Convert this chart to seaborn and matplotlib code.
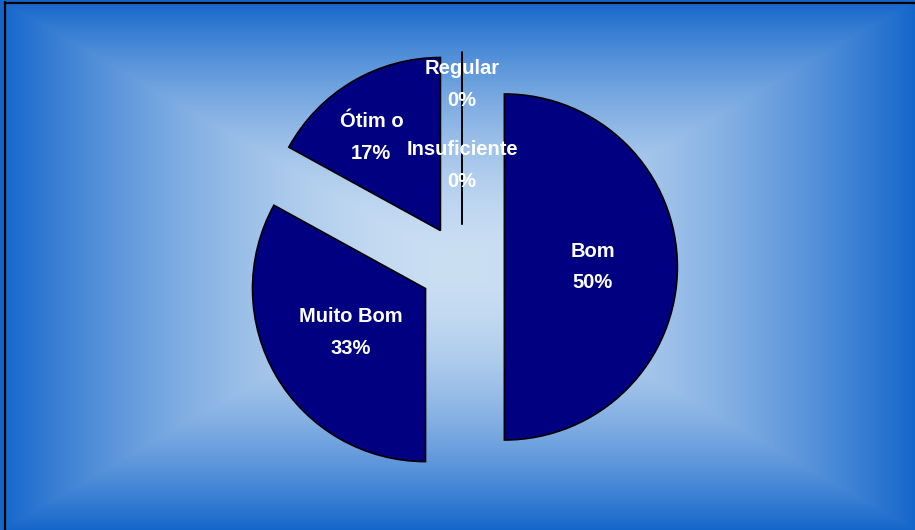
import numpy as np
import matplotlib
matplotlib.use("Agg")
import matplotlib.pyplot as plt
import seaborn as sns

# dados do gráfico
categorias = ["Bom", "Muito Bom", "Ótimo", "Regular", "Insuficiente"]
percentuais = [50, 33, 17, 0, 0]
rotulos = ["Bom\n50%", "Muito Bom\n33%", "Ótim o\n17%", "Regular\n0%", "Insuficiente\n0%"]

sns.set_theme(style="white")
plt.rcParams["font.family"] = ["Liberation Sans", "DejaVu Sans"]

W, H = 915, 530
fig = plt.figure(figsize=(W / 100, H / 100), dpi=100)
ax = fig.add_axes([0, 0, 1, 1])

# fundo em degradê retangular (claro no centro, azul nas bordas)
yy, xx = np.mgrid[0:H, 0:W]
t = np.maximum(np.abs(xx - W / 2) / (W / 2), np.abs(yy - H / 2) / (H / 2))
t = t ** 1.75
c0 = np.array([203, 223, 243]) / 255
c1 = np.array([20, 102, 203]) / 255
img = c0[None, None, :] * (1 - t[..., None]) + c1[None, None, :] * t[..., None]

# pizza: raio 1, centro na posição do gráfico original
r_px = 173
cx, cy = 462, 267
xlim = (-cx / r_px, (W - cx) / r_px)
ylim = (-(H - cy) / r_px, cy / r_px)
ax.imshow(img, extent=(xlim[0], xlim[1], ylim[0], ylim[1]), origin="upper",
          aspect="auto", zorder=0)

explode = [0.245] * len(percentuais)
wedges, _ = ax.pie(percentuais, startangle=90, counterclock=False,
                   explode=explode, radius=1,
                   colors=["#000080"] * len(percentuais),
                   wedgeprops=dict(edgecolor="black", linewidth=1.2))
for w in wedges:
    w.set_zorder(2)

# posição dos rótulos (distância relativa ao raio e ajuste de ângulo)
dist = [0.51, 0.5, 0.67, 0.81, 0.34]
ajuste = [0, 0, 6, 0, 0]
for w, txt, d, a in zip(wedges, rotulos, dist, ajuste):
    ang = np.deg2rad((w.theta1 + w.theta2) / 2 + a)
    x0, y0 = w.center
    ax.text(x0 + d * np.cos(ang), y0 + d * np.sin(ang), txt,
            ha="center", va="center", color="white", fontsize=14.5,
            fontweight="bold", linespacing=1.85, zorder=3)

ax.set_xlim(*xlim)
ax.set_ylim(*ylim)
ax.set_aspect("auto")
ax.axis("off")

# borda preta (esquerda e topo)
fig.add_artist(plt.Line2D([5 / W, 5 / W], [0, 1 - 2 / H], color="black", lw=1.6))
fig.add_artist(plt.Line2D([5 / W, 1], [1 - 3 / H, 1 - 3 / H], color="black", lw=1.6))

fig.savefig("out.png", dpi=100)
